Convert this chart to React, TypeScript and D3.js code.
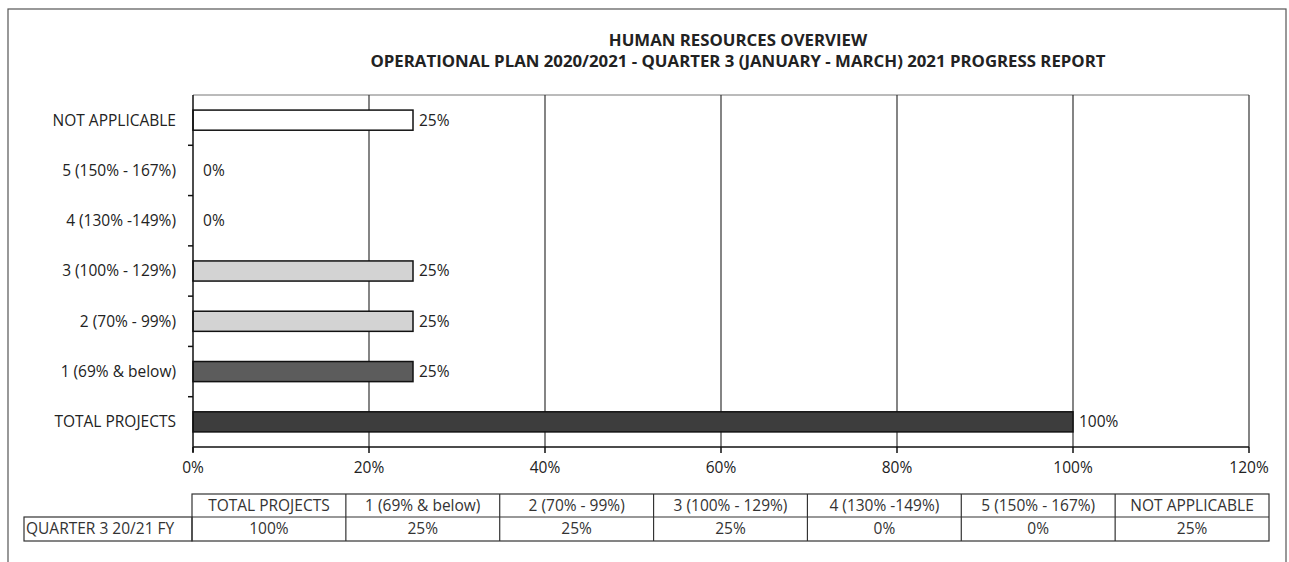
import React from "react";
import * as d3 from "d3";

// chart data
const categories = [
  "TOTAL PROJECTS",
  "1 (69% & below)",
  "2 (70% - 99%)",
  "3 (100% - 129%)",
  "4 (130% -149%)",
  "5 (150% - 167%)",
  "NOT APPLICABLE",
];
const values = [100, 25, 25, 25, 0, 0, 25];
const xTicks = [0, 20, 40, 60, 80, 100, 120];
const seriesName = "QUARTER 3 20/21 FY";
const titleLines = [
  "HUMAN RESOURCES OVERVIEW",
  "OPERATIONAL PLAN 2020/2021 - QUARTER 3 (JANUARY - MARCH) 2021 PROGRESS REPORT",
];

const fills: Record<string, string> = {
  "TOTAL PROJECTS": "#3d3d3d",
  "1 (69% & below)": "#5c5c5c",
  "2 (70% - 99%)": "#d3d3d3",
  "3 (100% - 129%)": "#d3d3d3",
  "4 (130% -149%)": "#d3d3d3",
  "5 (150% - 167%)": "#d3d3d3",
  "NOT APPLICABLE": "#ffffff",
};

const font = "'Open Sans', Lato, sans-serif";
const fs = 15.5;

export default function App() {
  const width = 1289;
  const height = 562;
  const plot = { left: 193, right: 1249, top: 95, bottom: 447 };

  const x = d3.scaleLinear().domain([0, 120]).range([plot.left, plot.right]);
  const y = d3
    .scaleBand<string>()
    .domain([...categories].reverse())
    .range([plot.top, plot.bottom])
    .paddingInner(0.6)
    .paddingOuter(0.3);

  // band boundaries for the y-axis tick marks
  const step = (plot.bottom - plot.top) / categories.length;
  const yTicks = d3.range(1, categories.length).map((i) => plot.top + i * step);

  // data table under the chart
  const tx = d3.scaleBand<string>().domain(categories).range([192, 1269]);
  const table = { top: 494, mid: 517, bottom: 541, labelLeft: 24 };

  return (
    <svg
      width={width}
      height={height}
      style={{ position: "absolute", left: 0, top: 0, background: "#fff" }}
      fontFamily={font}
    >
      {/* outer frame */}
      <rect x={8} y={9} width={1278} height={570} fill="none" stroke="#555" strokeWidth={1.2} />

      {titleLines.map((t, i) => (
        <text
          key={t}
          x={738}
          y={46 + i * 21}
          textAnchor="middle"
          fontSize={16.8}
          fontWeight="bold"
          fill="#222"
        >
          {t}
        </text>
      ))}

      {/* plot border and grid */}
      <line x1={plot.left} x2={plot.right} y1={plot.top} y2={plot.top} stroke="#777" />
      {xTicks.slice(1).map((t) => (
        <line key={t} x1={x(t)} x2={x(t)} y1={plot.top} y2={plot.bottom} stroke="#333" strokeWidth={1.2} />
      ))}

      {/* bars */}
      {categories.map((c, i) => (
        <g key={c}>
          {values[i] > 0 && (
            <rect
              x={x(0)}
              y={y(c)!}
              width={x(values[i]) - x(0)}
              height={y.bandwidth()}
              fill={fills[c]}
              stroke="#111"
              strokeWidth={1.5}
            />
          )}
          <text
            x={x(values[i]) + (values[i] > 0 ? 6 : 10)}
            y={y(c)! + y.bandwidth() / 2}
            dy="0.35em"
            fontSize={fs}
            fill="#222"
          >
            {values[i]}%
          </text>
          <text
            x={plot.left - 17}
            y={y(c)! + y.bandwidth() / 2}
            dy="0.35em"
            textAnchor="end"
            fontSize={fs}
            fill="#222"
          >
            {c}
          </text>
        </g>
      ))}

      {/* axes */}
      <line x1={plot.left} x2={plot.left} y1={plot.top} y2={plot.bottom + 5} stroke="#111" strokeWidth={1.5} />
      {yTicks.map((t) => (
        <line key={t} x1={plot.left - 5} x2={plot.left} y1={t} y2={t} stroke="#111" strokeWidth={1.5} />
      ))}
      <line x1={plot.left} x2={plot.right} y1={plot.bottom} y2={plot.bottom} stroke="#111" strokeWidth={1.5} />
      {xTicks.map((t) => (
        <g key={t}>
          <line x1={x(t)} x2={x(t)} y1={plot.bottom} y2={plot.bottom + 6} stroke="#111" strokeWidth={1.5} />
          <text x={x(t)} y={plot.bottom + 26} textAnchor="middle" fontSize={fs} fill="#222">
            {t}%
          </text>
        </g>
      ))}

      {/* data table */}
      <g stroke="#333" strokeWidth={1.2} fill="none">
        <rect x={tx.range()[0]} y={table.top} width={tx.range()[1] - tx.range()[0]} height={table.bottom - table.top} />
        <rect x={table.labelLeft} y={table.mid} width={tx.range()[0] - table.labelLeft} height={table.bottom - table.mid} />
        <line x1={tx.range()[0]} x2={tx.range()[1]} y1={table.mid} y2={table.mid} />
        {categories.slice(1).map((c) => (
          <line key={c} x1={tx(c)} x2={tx(c)} y1={table.top} y2={table.bottom} />
        ))}
      </g>
      {categories.map((c, i) => (
        <g key={c} fontSize={fs} fill="#333" textAnchor="middle">
          <text x={tx(c)! + tx.bandwidth() / 2} y={(table.top + table.mid) / 2} dy="0.35em">
            {c}
          </text>
          <text x={tx(c)! + tx.bandwidth() / 2} y={(table.mid + table.bottom) / 2} dy="0.35em">
            {values[i]}%
          </text>
        </g>
      ))}
      <text x={table.labelLeft + 2} y={(table.mid + table.bottom) / 2} dy="0.35em" fontSize={fs} fill="#333">
        {seriesName}
      </text>
    </svg>
  );
}
